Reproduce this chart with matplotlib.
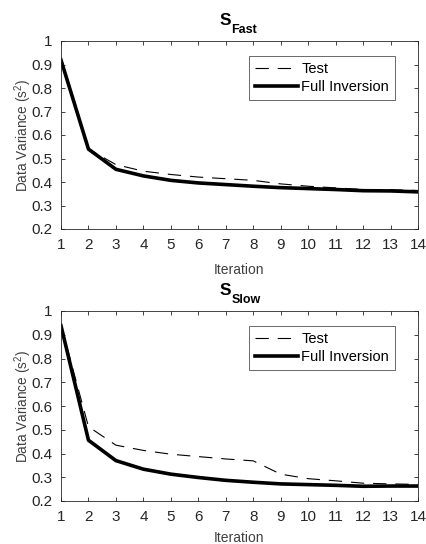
import matplotlib

matplotlib.use("Agg")
import matplotlib.pyplot as plt
import numpy as np

# =========================
# Datos
# =========================

iteraciones = np.arange(1, 15)

fast_test = [0.92, 0.54, 0.474, 0.446, 0.432, 0.421, 0.414, 0.407,
             0.392, 0.382, 0.375, 0.368, 0.367, 0.364]
fast_full = [0.919, 0.54, 0.454, 0.426, 0.407, 0.396, 0.389, 0.382,
             0.376, 0.372, 0.368, 0.363, 0.362, 0.358]

slow_test = [0.94, 0.513, 0.435, 0.413, 0.397, 0.387, 0.377, 0.369,
             0.313, 0.294, 0.285, 0.275, 0.272, 0.27]
slow_full = [0.938, 0.456, 0.37, 0.334, 0.313, 0.299, 0.287, 0.279,
             0.272, 0.269, 0.266, 0.262, 0.263, 0.263]

paneles = [
    ("Fast", fast_test, fast_full),
    ("Slow", slow_test, slow_full),
]

yticks = [0.2, 0.3, 0.4, 0.5, 0.6, 0.7, 0.8, 0.9, 1]
ytick_labels = ["0.2", "0.3", "0.4", "0.5", "0.6", "0.7", "0.8", "0.9", "1"]

# =========================
# Estilo
# =========================

plt.rcParams["font.family"] = ["Liberation Sans", "DejaVu Sans"]
plt.rcParams["mathtext.fontset"] = "custom"
plt.rcParams["mathtext.rm"] = "Liberation Sans"

fig = plt.figure(figsize=(4.27, 5.44), dpi=100)

# posiciones [left, bottom, width, height] en fraccion de figura
posiciones = [
    [61 / 427, 1 - 229 / 544, 357 / 427, 188 / 544],
    [61 / 427, 1 - 501 / 544, 357 / 427, 190 / 544],
]
# posicion vertical de "Iteration" (fraccion de ejes)
pos_xlabel = [-0.181, -0.16]

for (subindice, test, full), pos, yx in zip(paneles, posiciones, pos_xlabel):
    ax = fig.add_axes(pos)
    ax.plot(iteraciones, test, color="black", linewidth=0.8,
            dashes=(12, 8), label="Test")
    ax.plot(iteraciones, full, color="black", linewidth=2.6,
            label="Full Inversion")

    ax.set_xlim(1, 14)
    ax.set_ylim(0.2, 1)
    ax.set_xticks(iteraciones)
    ax.set_yticks(yticks)
    ax.set_yticklabels(ytick_labels)
    ax.tick_params(direction="in", top=True, right=True, length=3,
                   width=0.6, labelsize=11, colors="#262626")
    ax.tick_params(axis="x", pad=6.5)
    ax.tick_params(axis="y", pad=6)
    for spine in ax.spines.values():
        spine.set_color("#262626")
        spine.set_linewidth(0.6)

    # titulo "S" con subindice, armado a mano
    ax.annotate("S", xy=(0.5, 1), xycoords="axes fraction",
                xytext=(-6, 11.5), textcoords="offset points",
                ha="right", va="baseline", fontsize=12.5,
                fontweight="bold")
    ax.annotate(subindice, xy=(0.5, 1), xycoords="axes fraction",
                xytext=(-6, 5.5), textcoords="offset points",
                ha="left", va="baseline", fontsize=9,
                fontweight="bold")

    ax.set_xlabel("Iteration", fontsize=10, color="#404040")
    ax.xaxis.set_label_coords(0.5, yx)
    ax.set_ylabel("Data Variance (s$^2$)", fontsize=9.8, color="#404040")
    ax.yaxis.set_label_coords(-0.077, 0.5)

    leg = ax.legend(loc="upper right", bbox_to_anchor=(0.935, 0.92),
                    fontsize=10.5, frameon=True, fancybox=False,
                    handlelength=2.95, handletextpad=0.25,
                    borderpad=0.4, labelspacing=0.3, borderaxespad=0)
    leg.get_frame().set_edgecolor("#262626")
    leg.get_frame().set_linewidth(0.6)

fig.savefig("out.png", dpi=100)
